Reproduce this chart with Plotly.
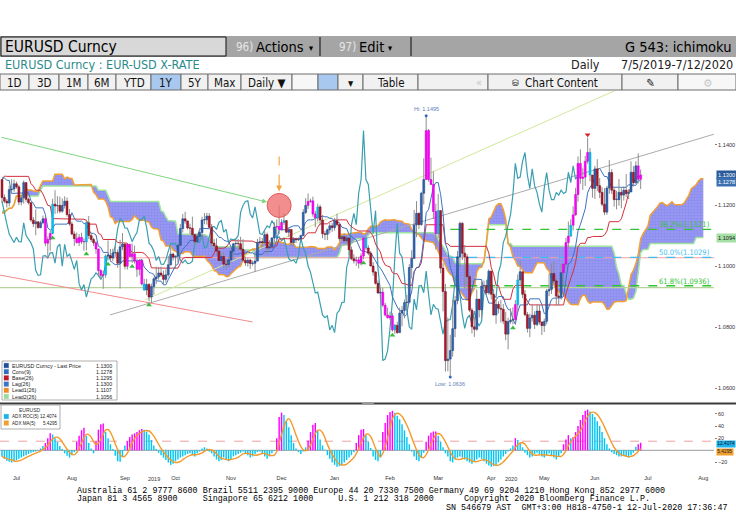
import numpy as np
import pandas as pd
import plotly.graph_objects as go

W, H = 736, 530
NARROW = "Liberation Sans Narrow, DejaVu Sans Condensed, Arial Narrow, sans-serif"
SANS = "Liberation Sans, Arial, sans-serif"
MONO = "Liberation Mono, DejaVu Sans Mono, monospace"

# ---------------- data ----------------
# warm-up closes before the window (Apr 23 - Jul 4 2019), used only for Ichimoku look-back
pre_close = [1.1226,1.1152,1.1131,1.1150,1.1185,1.1215,1.1195,1.1170,1.1200,1.1197,1.1191,1.1192,1.1215,1.1234,
             1.1225,1.1206,1.1201,1.1174,1.1157,1.1164,1.1160,1.1150,1.1180,1.1205,1.1193,1.1160,1.1130,1.1132,
             1.1169,1.1240,1.1252,1.1222,1.1275,1.1332,1.1310,1.1327,1.1287,1.1275,1.1210,1.1220,1.1195,1.1290,
             1.1295,1.1370,1.1398,1.1367,1.1368,1.1373,1.1370,1.1285,1.1285,1.1283,1.1285]

start_date = "2019-07-05"
close = [
 1.1226,1.1214,1.1208,1.1252,1.1254,1.1271,1.1261,1.1211,1.1225,1.1275,1.1220,1.1209,1.1152,1.1140,1.1146,1.1127,1.1143,1.1156,1.1076,
 1.1088,1.1108,1.1204,1.1198,1.1200,1.1181,1.1200,1.1214,1.1170,1.1139,1.1106,1.1091,1.1078,1.1095,1.1081,1.1080,1.1143,1.1101,1.1088,1.1077,1.1057,1.0986,
 1.0970,1.0972,1.1034,1.1035,1.1027,1.1044,1.1045,1.1010,1.1064,1.1073,1.1000,1.1072,1.1032,1.1041,1.1017,1.0990,1.1019,1.0942,1.0922,1.0940,1.0899,
 1.0933,1.0959,1.0965,1.0978,1.0971,1.0957,1.0972,1.1005,1.1040,1.1030,1.1033,1.1069,1.1124,1.1156,1.1149,1.1126,1.1125,1.1104,1.1081,1.1098,1.1111,1.1152,1.1153,
 1.1165,1.1128,1.1076,1.1067,1.1050,1.1019,1.1032,1.1007,1.1006,1.1021,1.1050,1.1074,1.1075,1.1074,1.1056,1.1020,1.1011,1.1020,1.1009,1.1010,1.1017,
 1.1077,1.1081,1.1078,1.1104,1.1060,1.1064,1.1093,1.1129,1.1131,1.1121,1.1144,1.1150,1.1112,1.1121,1.1078,1.1090,1.1087,1.1090,1.1101,1.1177,1.1200,1.1213,
 1.1215,1.1172,1.1159,1.1195,1.1152,1.1107,1.1105,1.1120,1.1133,1.1127,1.1150,1.1137,1.1091,1.1097,1.1084,1.1093,1.1054,1.1025,1.1018,1.1021,1.1010,1.1034,1.1093,
 1.1060,1.1043,1.1001,1.0981,1.0944,1.0912,1.0915,1.0872,1.0840,1.0831,1.0837,1.0791,1.0806,1.0782,1.0846,1.0855,1.0881,1.0882,1.0996,1.1026,
 1.1136,1.1174,1.1137,1.1240,1.1285,1.1446,1.1285,1.1269,1.1180,1.1107,1.1183,1.0994,1.0917,1.0690,1.0695,1.0723,1.0795,1.0887,1.1031,1.1141,1.1043,1.1031,
 1.0966,1.0856,1.0801,1.0793,1.0892,1.0857,1.0935,1.0937,1.0913,1.0984,1.0908,1.0840,1.0875,1.0862,1.0859,1.0820,1.0777,1.0818,1.0823,1.0825,1.0874,1.0955,
 1.0982,1.0908,1.0841,1.0796,1.0830,1.0839,1.0809,1.0853,1.0817,1.0805,1.0819,1.0919,1.0924,1.0976,1.0952,1.0902,1.0898,1.0979,1.1007,1.1078,1.1099,
 1.1135,1.1169,1.1236,1.1338,1.1289,1.1293,1.1345,1.1374,1.1300,1.1256,1.1320,1.1265,1.1243,1.1204,1.1178,1.1257,1.1308,1.1250,1.1219,1.1219,1.1243,1.1234,
 1.1250,1.1239,1.1244,1.1309,1.1275,1.1330,1.1286,1.1300,
]
high = [
 1.1285,1.1236,1.1221,1.1265,1.1286,1.1285,1.1278,1.1267,1.1233,1.1282,1.1275,1.1225,1.1210,1.1162,1.1187,1.1149,1.1150,1.1167,1.1162,
 1.1098,1.1117,1.1222,1.1250,1.1230,1.1229,1.1223,1.1230,1.1226,1.1188,1.1147,1.1115,1.1111,1.1106,1.1110,1.1092,1.1153,1.1165,1.1111,1.1094,1.1083,1.1056,
 1.0990,1.0985,1.1039,1.1085,1.1057,1.1058,1.1068,1.1055,1.1087,1.1109,1.1036,1.1075,1.1074,1.1075,1.1068,1.1025,1.1024,1.1023,1.0959,1.0959,1.0945,
 1.0943,1.0964,1.0999,1.0998,1.0999,1.0986,1.0990,1.1034,1.1063,1.1045,1.1036,1.1075,1.1139,1.1172,1.1179,1.1150,1.1140,1.1163,1.1108,1.1108,1.1125,1.1163,1.1175,
 1.1176,1.1175,1.1139,1.1089,1.1092,1.1055,1.1046,1.1047,1.1022,1.1034,1.1055,1.1076,1.1090,1.1090,1.1097,1.1089,1.1031,1.1028,1.1025,1.1019,1.1039,
 1.1090,1.1097,1.1093,1.1116,1.1111,1.1085,1.1096,1.1145,1.1154,1.1200,1.1155,1.1175,1.1152,1.1127,1.1123,1.1096,1.1094,1.1095,1.1104,1.1188,1.1224,1.1239,
 1.1222,1.1229,1.1182,1.1206,1.1202,1.1168,1.1116,1.1124,1.1144,1.1143,1.1159,1.1173,1.1143,1.1101,1.1108,1.1102,1.1092,1.1065,1.1040,1.1032,1.1031,1.1043,1.1096,
 1.1096,1.1069,1.1050,1.1014,1.0984,1.0954,1.0929,1.0929,1.0880,1.0864,1.0851,1.0846,1.0810,1.0818,1.0864,1.0870,1.0891,1.0906,1.1007,1.1053,
 1.1185,1.1214,1.1177,1.1245,1.1355,1.1495,1.1451,1.1357,1.1312,1.1206,1.1238,1.1177,1.1010,1.0942,1.0832,1.0775,1.0890,1.0903,1.1050,1.1147,1.1145,1.1070,
 1.1040,1.0974,1.0863,1.0835,1.0924,1.0893,1.0952,1.0953,1.0956,1.0990,1.0970,1.0925,1.0892,1.0885,1.0890,1.0876,1.0850,1.0831,1.0862,1.0865,1.0889,1.0973,
 1.1019,1.0975,1.0922,1.0850,1.0844,1.0876,1.0852,1.0875,1.0873,1.0818,1.0828,1.0925,1.0975,1.1008,1.1017,1.0962,1.0910,1.1008,1.1009,1.1093,1.1147,
 1.1154,1.1197,1.1258,1.1361,1.1384,1.1322,1.1363,1.1422,1.1388,1.1297,1.1330,1.1352,1.1290,1.1260,1.1257,1.1264,1.1349,1.1319,1.1261,1.1248,1.1287,1.1256,
 1.1263,1.1303,1.1253,1.1345,1.1329,1.1345,1.1371,1.1318,
]
low = [
 1.1208,1.1207,1.1193,1.1197,1.1239,1.1245,1.1255,1.1201,1.1200,1.1206,1.1212,1.1203,1.1146,1.1129,1.1102,1.1124,1.1125,1.1138,1.1066,
 1.1027,1.1051,1.1105,1.1172,1.1174,1.1174,1.1176,1.1190,1.1163,1.1133,1.1102,1.1067,1.1074,1.1066,1.1073,1.1051,1.1052,1.1090,1.1080,1.1066,1.1041,1.0966,
 1.0959,1.0926,1.0962,1.1019,1.1015,1.1016,1.1031,1.0995,1.0927,1.1053,1.0990,1.0989,1.1031,1.1011,1.1009,1.0965,1.0970,1.0937,1.0920,1.0905,1.0885,
 1.0879,1.0906,1.0942,1.0956,1.0965,1.0940,1.0947,1.0966,1.1002,1.1019,1.0991,1.1013,1.1064,1.1111,1.1140,1.1121,1.1106,1.1095,1.1071,1.1073,1.1086,1.1097,1.1138,
 1.1137,1.1125,1.1065,1.1055,1.1036,1.1015,1.1013,1.0996,1.0989,1.0997,1.1011,1.1024,1.1057,1.1052,1.1051,1.1014,1.1001,1.0999,1.0991,1.1002,1.0981,
 1.1017,1.1067,1.1064,1.1073,1.1040,1.1053,1.1059,1.1077,1.1106,1.1106,1.1117,1.1136,1.1109,1.1096,1.1067,1.1066,1.1076,1.1083,1.1083,1.1099,1.1172,1.1188,
 1.1208,1.1163,1.1128,1.1147,1.1135,1.1092,1.1086,1.1086,1.1108,1.1113,1.1117,1.1131,1.1084,1.1087,1.1078,1.1076,1.1036,1.1020,1.1009,1.1001,1.0993,1.1003,1.1023,
 1.1054,1.1036,1.0999,1.0969,1.0940,1.0910,1.0892,1.0866,1.0835,1.0828,1.0823,1.0785,1.0778,1.0778,1.0783,1.0803,1.0829,1.0856,1.0878,1.0960,
 1.1025,1.1096,1.1122,1.1133,1.1203,1.1330,1.1278,1.1270,1.1155,1.1055,1.1093,1.0977,1.0852,1.0654,1.0655,1.0636,1.0703,1.0767,1.0875,1.0997,1.1020,1.0926,
 1.0924,1.0850,1.0779,1.0768,1.0788,1.0832,1.0830,1.0925,1.0899,1.0907,1.0891,1.0838,1.0811,1.0845,1.0815,1.0810,1.0757,1.0727,1.0811,1.0809,1.0815,1.0850,
 1.0937,1.0895,1.0836,1.0782,1.0767,1.0818,1.0794,1.0803,1.0808,1.0774,1.0784,1.0809,1.0902,1.0909,1.0944,1.0871,1.0871,1.0890,1.0935,1.0993,1.1061,
 1.1098,1.1118,1.1166,1.1212,1.1271,1.1251,1.1264,1.1337,1.1279,1.1225,1.1221,1.1247,1.1224,1.1197,1.1168,1.1169,1.1238,1.1238,1.1196,1.1187,1.1199,1.1191,
 1.1216,1.1228,1.1221,1.1245,1.1262,1.1271,1.1272,1.1254,
]

# ADX ROC(5) histogram (one value per trading day, last value = latest)
adx_roc = [
 -10,-14,-17,-19,-20,-18,-16,-14,-12,-10,-8, -6,-4,-3,-2,0, 3,7,12, 20,28, 26,20,14, 7,2, -5,-9,-12,-8, -3,
 14,24,33,37, 24,12,3, -5, 15,34,43,44, 30,20,10,2, -9,-18,-19,-10, 8,15,22,26,28,30,33, 35,34,31,26,17,8, 2,-4,
 -8,-12,-16,-20,-24,-22,-18,-15,-12,-10,-8,-6, -5,-8,-10,-5,-2,3,5,3,-2,
 -5,-10,-15,-18,-16,-12,-15,-18,-15,-10,-8,-6,-4,-2,-5,-8,-12,-10,-6,-3,-2,-5,-10,-14,-10,-5,-1,
 20,55,62, 58,48,38,25,12,3, -3,-6,-2,5, 16,30,42,45, 32,18,8,1,
 -8,-14,-20,-24,-27,-26,-24,-20,-16,-12,-8,-3, 12,25,34,35, 25,14,4, -10,-16,-18,-12,
 30,45,58,63,65, 62,57,51,43,33,22,10, -2,-10,-16,-18,-12,-4, 14,24,29,31,31, 24,14,5,
 -5,-10,-18,-20,-15,-12,-10,-12,-15,-18,-20,-22,-18,-15,-12,-14,-18,-22,-25,-27,-26,-24,-20,-15,-10,-6,-2,3,8,
 20,17,12,5, -4,-8,-12,-10,-6,-4,-6,-10,-12,-8,-5,-8,-12,-15,-10,-5,
 10,18,25,20,22,30, 40,50,58,65,67, 64,60,55,48,40,30,20,10,
 3,-3,-6,-8,-10,-10,-9,-11,-12,-8,-4, 6,10,12.4074,
]

legend_main = [("EURUSD Curncy - Last Price", "1.1300", "#1f4e9a"),
               ("Conv(9)", "1.1278", "#2f6fbf"),
               ("Base(26)", "1.1295", "#c0182a"),
               ("Lag(26)", "1.1300", "#3b78c0"),
               ("Lead1(26)", "1.1107", "#f08a24"),
               ("Lead2(26)", "1.1056", "#9ed89e")]
legend_sub = [("ADX ROC(5)", "12.4074", "#1fb0ec"), ("ADX MA(5)", "5.4295", "#f0a030")]

fib_levels = [("38.2%", 1.1121, "#33c433"), ("50.0%", 1.1029, "#3fbdf0"), ("61.8%", 1.0936, "#33c433")]
h_levels = [(1.1028, "#f4a3a3"), (1.0930, "#b5d39a")]
# user-drawn trend lines: (start idx, start price, end idx, end price, colour)
trend_lines = [(44.8, 1.0840, 295.4, 1.1434, "#ababab"),
               (59.3, 1.0889, 258.5, 1.1592, "#cfe89a"),
               (-0.8, 1.0971, 104.0, 1.0817, "#f28b8b")]
green_arrow = (-0.8, 1.1425, 110.0, 1.1211)
up_signals = [21, 35, 44, 54, 61, 150, 162, 212]
down_signals = [243]
highlight_idx = 115
month_names = ["Jul", "Aug", "Sep", "Oct", "Nov", "Dec", "Jan", "Feb", "Mar", "Apr", "May", "Jun", "Jul", "Aug"]
year_labels = [("2019", 63), ("2020", 211)]

# ---------------- derived ----------------
n = len(close)
c = np.array(close)
opn = np.array([pre_close[-1]] + close[:-1])
h = np.maximum.reduce([np.array(high), opn, c])
l = np.minimum.reduce([np.array(low), opn, c])
idx = np.arange(n)

P = len(pre_close)
fh = pd.Series(list(pre_close) + list(h))
fl = pd.Series(list(pre_close) + list(l))


def mid(k):
    return ((fh.rolling(k, min_periods=1).max() + fl.rolling(k, min_periods=1).min()) / 2).values


conv = mid(9)
base = mid(26)
spanA = (conv + base) / 2
spanB = mid(52)
conv_m, base_m = conv[P:], base[P:]
lead_x = np.arange(n + 26)
lead1 = spanA[P - 26:P + n]
lead2 = spanB[P - 26:P + n]
lag_x = np.arange(n - 26)
lag_y = c[26:]

MAG, CYAN, UP, DN = "#ff00ff", "#00c6f4", "#2f66b3", "#b3162c"
roc = np.array(adx_roc, dtype=float)
m = len(roc)
hx = np.arange(n - m, n)
prev = np.r_[roc[0], roc[:-1]]
rising = (roc > 8) & (roc >= prev)
hist_col = np.where(rising, MAG, CYAN)
ma5 = pd.Series(roc).rolling(5, min_periods=1).mean().values

cand_col = np.where(c >= opn, UP, DN).astype(object)
for j, k in enumerate(hx):
    if rising[j]:
        cand_col[k] = MAG
    elif roc[j] > 0 and j > 0 and rising[j - 1]:
        cand_col[k] = CYAN
edge = {UP: "#1b3f7c", DN: "#6c0c19", MAG: "#c800c8", CYAN: "#0096c8"}
cand_edge = [edge[col] for col in cand_col]

# axis ranges (pixel layout: 2.41 px per trading day, axis at x=714)
XMIN = -2 / 2.41
XMAX = XMIN + 714 / 2.41
YMIN, YMAX = 1.0554, 1.1576
Y2MIN, Y2MAX = -35.7, 74.6

ext_dates = pd.bdate_range(start_date, periods=320)
tick_pos = []
for yr, mo in [(2019, mm) for mm in range(7, 13)] + [(2020, mm) for mm in range(1, 9)]:
    d = pd.Timestamp(yr, mo, 15)
    tick_pos.append(int(np.searchsorted(ext_dates.values, np.datetime64(d))))


def px(x):
    return x / W


def py(y):
    return 1 - y / H


fig = go.Figure()

# cloud
fig.add_trace(go.Scatter(x=lead_x, y=lead2, mode="lines", line=dict(color="#9ee39e", width=1.5),
                         hoverinfo="skip", zorder=0))
fig.add_trace(go.Scatter(x=lead_x, y=lead1, mode="lines", line=dict(color="#f3a033", width=1.5),
                         fill="tonexty", fillcolor="#9494f2",
                         fillpattern=dict(shape=".", fgcolor="#7d7de2", bgcolor="#9595f2", size=3, solidity=0.25),
                         hoverinfo="skip", zorder=0))
# horizontal reference lines
for lv, col in h_levels:
    fig.add_trace(go.Scatter(x=[XMIN, XMAX], y=[lv, lv], mode="lines", line=dict(color=col, width=1.2),
                             hoverinfo="skip", zorder=1))
lo_i = int(np.argmin(l))
for name, lv, col in fib_levels:
    fig.add_trace(go.Scatter(x=[lo_i, XMAX], y=[lv, lv], mode="lines",
                             line=dict(color=col, width=1.3, dash="dash"), hoverinfo="skip", zorder=1))
for x0, y0, x1, y1, col in trend_lines:
    fig.add_trace(go.Scatter(x=[x0, x1], y=[y0, y1], mode="lines", line=dict(color=col, width=1),
                             hoverinfo="skip", zorder=1))
# ichimoku lines
fig.add_trace(go.Scatter(x=lag_x, y=lag_y, mode="lines", line=dict(color="#3a9fb0", width=1.2),
                         hoverinfo="skip", zorder=1))
fig.add_trace(go.Scatter(x=idx, y=base_m, mode="lines", line=dict(color="#d3303c", width=1),
                         hoverinfo="skip", zorder=1))
fig.add_trace(go.Scatter(x=idx, y=conv_m, mode="lines", line=dict(color="#3b73c2", width=1),
                         hoverinfo="skip", zorder=1))
# wicks
wx, wy = [], []
for i in range(n):
    wx += [i, i, None]
    wy += [l[i], h[i], None]
fig.add_trace(go.Scatter(x=wx, y=wy, mode="lines", line=dict(color="#8e8e8e", width=1),
                         hoverinfo="skip", zorder=2))
# bodies
fig.add_trace(go.Bar(x=idx, y=np.maximum(np.abs(c - opn), 0.00015), base=np.minimum(opn, c), width=0.8,
                     marker=dict(color=list(cand_col), line=dict(color=cand_edge, width=0.5)),
                     hoverinfo="skip", zorder=3))
# signals
fig.add_trace(go.Scatter(x=up_signals, y=[l[i] - 0.0012 for i in up_signals], mode="markers",
                         marker=dict(symbol="triangle-up", size=5, color="#3cb83c"), hoverinfo="skip", zorder=4))
fig.add_trace(go.Scatter(x=down_signals, y=[h[i] + 0.0010 for i in down_signals], mode="markers",
                         marker=dict(symbol="triangle-down", size=5, color="#e02020"), hoverinfo="skip", zorder=4))
hi_i = int(np.argmax(h))
fig.add_trace(go.Scatter(x=[hi_i, lo_i], y=[h[hi_i], l[lo_i]], mode="markers",
                         marker=dict(size=3, color="#3a66c4"), hoverinfo="skip", zorder=4))

# lower panel
fig.add_trace(go.Scatter(x=[XMIN, XMAX], y=[0, 0], mode="lines", line=dict(color="#9a9a9a", width=1),
                         xaxis="x2", yaxis="y2", hoverinfo="skip", zorder=0))
fig.add_trace(go.Scatter(x=[XMIN, XMAX], y=[15, 15], mode="lines", line=dict(color="#f4a0a0", width=1, dash="dash"),
                         xaxis="x2", yaxis="y2", hoverinfo="skip", zorder=0))
fig.add_trace(go.Bar(x=hx, y=roc, width=0.6, marker=dict(color=list(hist_col), line=dict(width=0)),
                     xaxis="x2", yaxis="y2", hoverinfo="skip", zorder=1))
fig.add_trace(go.Scatter(x=hx, y=ma5, mode="lines", line=dict(color="#f39a2a", width=1.4, shape="spline"),
                         xaxis="x2", yaxis="y2", hoverinfo="skip", zorder=2))

shapes, ann = [], []


def rect(x0, y0, x1, y1, fill, line="rgba(0,0,0,0)", lw=1):
    shapes.append(dict(type="rect", xref="paper", yref="paper", x0=px(x0), x1=px(x1), y0=py(y1), y1=py(y0),
                       fillcolor=fill, line=dict(color=line, width=lw), layer="above"))


def hline(x0, x1, y, col, lw=1):
    shapes.append(dict(type="line", xref="paper", yref="paper", x0=px(x0), x1=px(x1), y0=py(y), y1=py(y),
                       line=dict(color=col, width=lw), layer="above"))


def vline(x, y0, y1, col, lw=1):
    shapes.append(dict(type="line", xref="paper", yref="paper", x0=px(x), x1=px(x), y0=py(y0), y1=py(y1),
                       line=dict(color=col, width=lw), layer="above"))


def txt(x, y, s, size, color="#000", xa="left", ya="middle", family=NARROW, **kw):
    ann.append(dict(x=px(x), y=py(y), xref="paper", yref="paper", text=s, showarrow=False, xanchor=xa,
                    yanchor=ya, font=dict(size=size, color=color, family=family), **kw))


# header bar
rect(0, 36, 736, 57, "#a5a5a5")
rect(1, 37, 226, 56, "#d8d8d8", "#111", 1)
txt(3, 47, "EURUSD Curncy", 15.5)
txt(234, 46.5, "96)", 11.5, "#e6e6e6")
txt(254, 46.5, "Actions", 14.5)
txt(307, 47.5, "▾", 9)
vline(320, 37, 56, "#222", 1.2)
txt(337, 46.5, "97)", 11.5, "#e6e6e6")
txt(357, 46.5, "Edit", 14.5)
txt(386, 47.5, "▾", 9)
vline(411, 37, 56, "#222", 1.2)
txt(733, 46.5, "G 543: ichimoku", 14.5, xa="right")
# second row
txt(3, 65, "EURUSD Curncy : EUR-USD X-RATE", 12.5, "#2b8b8b")
txt(569, 65, "Daily", 12.5, "#222")
txt(735, 65, "7/5/2019-7/12/2020", 12.5, "#222", xa="right")
# toolbar
cells = [(0, 29, "1D", 0), (29, 59, "3D", 0), (59, 88, "1M", 0), (88, 116, "6M", 0), (116, 151, "YTD", 0),
         (151, 181, "1Y", 1), (181, 208, "5Y", 0), (208, 241, "Max", 0), (241, 292, "Daily ▼", 0),
         (292, 318, "", 2), (318, 338, "", 1), (338, 363, "▾", 0), (363, 418, "Table", 0),
         (418, 488, "", 0), (488, 622, "Chart Content", 0), (622, 678, "✎", 0), (678, 736, "⚙", 2)]
for x0, x1, s, kind in cells:
    fill = {0: "#f1f1f1", 1: "#a8c8ef", 2: "#f7f7f7"}[kind]
    rect(x0, 74, x1, 90, fill, "#6d6d6d", 1)
    if s:
        col = "#c8c8c8" if kind == 2 else "#111"
        txt((x0 + x1) / 2 + (6 if s == "Chart Content" else 0), 82.5, s, 11.5, col, xa="center")
txt(479, 82.5, "«", 11, "#c4c4c4", xa="center")
txt(515, 82.5, "⛁", 9, "#333", xa="center")

# panel divider
hline(0, 736, 403.5, "#3a3a3a", 2.2)
hline(362, 374, 403.5, "#9a9a9a", 2.2)

# main legend
rect(2, 361, 117, 400, "#ffffff", "#9a9a9a", 0.8)
for k, (name, val, col) in enumerate(legend_main):
    yy = 365.5 + k * 6.2
    rect(4, yy - 2.3, 8.6, yy + 2.3, col, col, 0.3)
    txt(10, yy, name, 5.3, "#222", family=SANS)
    txt(114, yy, val, 5.3, "#222", xa="right", family=SANS)
# lower legend
rect(1, 405, 60, 429, "#ffffff", "#9a9a9a", 0.8)
txt(30, 410, "EURUSD", 5, "#333", xa="center", family=SANS)
for k, (name, val, col) in enumerate(legend_sub):
    yy = 416.5 + k * 6.5
    rect(4, yy - 2.3, 8.6, yy + 2.3, col, col, 0.3)
    txt(10, yy, name, 4.6, "#222", family=SANS)
    txt(59, yy, val, 4.6, "#222", xa="right", family=SANS)

# right-side price boxes
for val, bg, fc in [(1.1300, "#2b5a9a", "white"), (1.1278, "#3b6fb0", "white"), (1.1094, "#a6e0a6", "#222")]:
    ann.append(dict(x=px(716), y=val, xref="paper", yref="y", text=f"{val:.4f}", showarrow=False,
                    xanchor="left", yanchor="middle", bgcolor=bg, borderpad=1,
                    font=dict(size=5.6, color=fc, family=SANS)))
for val, bg, shift in [(12.4074, "#1fb0ec", -1.5), (5.4295, "#f0a030", -4.5)]:
    ann.append(dict(x=px(716), y=val, xref="paper", yref="y2", text=f"{val:.4f}", yshift=shift,
                    showarrow=False, xanchor="left", yanchor="middle", bgcolor=bg, borderpad=0.3,
                    font=dict(size=4.8, color="#1a1a1a", family=SANS)))

# fib labels
for name, lv, col in fib_levels:
    ann.append(dict(x=px(712), y=lv, xref="paper", yref="y", text=f"{name}({lv:.4f})", showarrow=False,
                    xanchor="right", yanchor="bottom", yshift=-2, font=dict(size=7.5, color=col, family=NARROW)))

# hi / low labels
ann.append(dict(x=hi_i, y=h[hi_i], xref="x", yref="y", text=f"Hi: {h[hi_i]:.4f}", showarrow=False,
                yshift=7, font=dict(size=5.5, color="#5b80b8", family=SANS)))
ann.append(dict(x=lo_i, y=l[lo_i], xref="x", yref="y", text=f"Low: {l[lo_i]:.4f}", showarrow=False,
                yshift=-7, font=dict(size=5.5, color="#5b80b8", family=SANS)))

# green arrow trend line
gx0, gy0, gx1, gy1 = green_arrow
ann.append(dict(x=gx1, y=gy1, ax=gx0, ay=gy0, xref="x", yref="y", axref="x", ayref="y", text="",
                showarrow=True, arrowhead=2, arrowsize=1, arrowwidth=1, arrowcolor="#7fd67f"))

# highlight circle and dashed arrow
hy = h[highlight_idx]
shapes.append(dict(type="circle", xref="x", yref="y", xsizemode="pixel", ysizemode="pixel",
                   xanchor=highlight_idx, yanchor=hy, x0=-12, x1=12, y0=-12, y1=12,
                   fillcolor="rgba(240,110,110,0.78)", line=dict(color="#e05a5a", width=1), layer="above"))
shapes.append(dict(type="line", xref="x", yref="y", ysizemode="pixel", yanchor=hy,
                   x0=highlight_idx, x1=highlight_idx, y0=22, y1=50,
                   line=dict(color="#f4a640", width=1.2, dash="dash"), layer="above"))
ann.append(dict(x=highlight_idx, y=hy, xref="x", yref="y", ax=0, ay=-24, text="", showarrow=True,
                standoff=14, arrowhead=2, arrowsize=1, arrowwidth=1.2, arrowcolor="#f4a640"))

# year labels
for s, i in year_labels:
    ann.append(dict(x=i, y=py(484), xref="x2", yref="paper", text=s, showarrow=False,
                    font=dict(size=5.5, color="#333", family=SANS)))

# footer
sp = "\u00a0"
line1 = ("Australia 61 2 9777 8600 Brazil 5511 2395 9000 Europe 44 20 7330 7500 Germany 49 69 9204 1210 "
         "Hong Kong 852 2977 6000").replace(" ", sp)
txt(75, 490.5, line1, 8.4, "#000", family=MONO)
line2 = ("Japan 81 3 4565 8900" + " " * 5 + "Singapore 65 6212 1000" + " " * 5 + "U.S. 1 212 318 2000" + " " * 6
         + "Copyright 2020 Bloomberg Finance L.P.").replace(" ", sp)
txt(75, 499, line2, 8.4, "#000", family=MONO)
txt(729, 508, "SN 546679 AST  GMT+3:00 H818-4750-1 12-Jul-2020 17:36:47".replace(" ", sp), 8.4, "#000",
    xa="right", family=MONO)

XD = [0, 714 / W]
fig.update_layout(
    width=W, height=H, margin=dict(l=0, r=0, t=0, b=0), paper_bgcolor="white", plot_bgcolor="white",
    showlegend=False, hovermode=False, font=dict(family=SANS, color="#333"),
    xaxis=dict(domain=XD, range=[XMIN, XMAX], anchor="y", showticklabels=False, showgrid=False, zeroline=False,
               ticks=""),
    yaxis=dict(domain=[py(402), py(91)], range=[YMIN, YMAX], anchor="x", side="right", showgrid=False,
               zeroline=False, showline=True, linecolor="#808080", linewidth=1,
               tickvals=[1.06, 1.08, 1.10, 1.12, 1.14], ticktext=["1.0600", "1.0800", "1.1000", "1.1200", "1.1400"],
               ticks="outside", ticklen=2, tickcolor="#808080", tickfont=dict(size=5.6, color="#333")),
    xaxis2=dict(domain=XD, range=[XMIN, XMAX], anchor="y2", showgrid=False, zeroline=False, showline=True,
                linecolor="#8a8a8a", linewidth=1, tickvals=tick_pos, ticktext=month_names, ticks="",
                tickfont=dict(size=5.6, color="#333")),
    yaxis2=dict(domain=[py(472), py(405)], range=[Y2MIN, Y2MAX], anchor="x2", side="right", showgrid=False,
                zeroline=False, showline=True, linecolor="#808080", linewidth=1,
                tickvals=[-20, 20, 40, 60], ticks="outside", ticklen=2, tickcolor="#808080",
                tickfont=dict(size=5.4, color="#333")),
    shapes=shapes, annotations=ann,
)

fig.write_html("out.html", config={"displayModeBar": False, "staticPlot": True},
               post_script="document.body.style.margin='0';document.body.style.overflow='hidden';")
